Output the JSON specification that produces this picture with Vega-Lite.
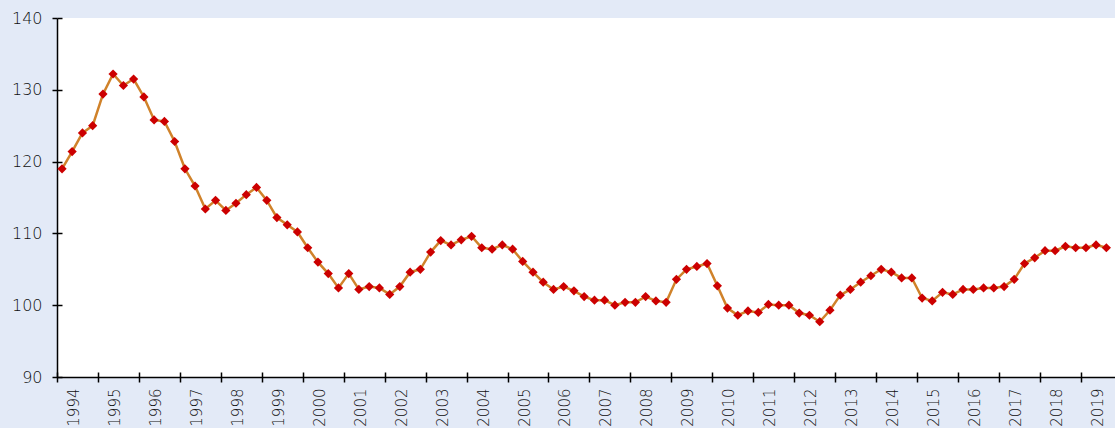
{
  "$schema": "https://vega.github.io/schema/vega-lite/v6.json",
  "width": 1058,
  "height": 359,
  "autosize": {"type": "none"},
  "padding": {"left": 57, "top": 18, "right": 0, "bottom": 51},
  "background": "#e3eaf7",
  "view": {"fill": "white", "stroke": null},
  "config": {
    "axis": {"labelFont": "DejaVu Sans", "labelFontSize": 16, "labelFontWeight": 300, "labelColor": "#111111", "domainColor": "#000000", "tickColor": "#000000", "domainWidth": 1.5, "tickWidth": 1.5, "grid": false, "title": null}
  },
  "data": {"values": [
    {"date": "1994-02-15", "value": 119.0}, {"date": "1994-05-16", "value": 121.4}, {"date": "1994-08-16", "value": 124.0}, {"date": "1994-11-15", "value": 125.0},
    {"date": "1995-02-15", "value": 129.4}, {"date": "1995-05-16", "value": 132.2}, {"date": "1995-08-16", "value": 130.6}, {"date": "1995-11-15", "value": 131.5},
    {"date": "1996-02-15", "value": 129.0}, {"date": "1996-05-16", "value": 125.8}, {"date": "1996-08-16", "value": 125.6}, {"date": "1996-11-15", "value": 122.8},
    {"date": "1997-02-15", "value": 119.0}, {"date": "1997-05-16", "value": 116.6}, {"date": "1997-08-16", "value": 113.4}, {"date": "1997-11-15", "value": 114.6},
    {"date": "1998-02-15", "value": 113.2}, {"date": "1998-05-16", "value": 114.2}, {"date": "1998-08-16", "value": 115.4}, {"date": "1998-11-15", "value": 116.4},
    {"date": "1999-02-15", "value": 114.6}, {"date": "1999-05-16", "value": 112.2}, {"date": "1999-08-16", "value": 111.2}, {"date": "1999-11-15", "value": 110.2},
    {"date": "2000-02-15", "value": 108.0}, {"date": "2000-05-16", "value": 106.0}, {"date": "2000-08-16", "value": 104.4}, {"date": "2000-11-15", "value": 102.4},
    {"date": "2001-02-15", "value": 104.4}, {"date": "2001-05-16", "value": 102.2}, {"date": "2001-08-16", "value": 102.6}, {"date": "2001-11-15", "value": 102.4},
    {"date": "2002-02-15", "value": 101.5}, {"date": "2002-05-16", "value": 102.6}, {"date": "2002-08-16", "value": 104.6}, {"date": "2002-11-15", "value": 105.0},
    {"date": "2003-02-15", "value": 107.4}, {"date": "2003-05-16", "value": 109.0}, {"date": "2003-08-16", "value": 108.4}, {"date": "2003-11-15", "value": 109.1},
    {"date": "2004-02-15", "value": 109.6}, {"date": "2004-05-16", "value": 108.0}, {"date": "2004-08-16", "value": 107.8}, {"date": "2004-11-15", "value": 108.4},
    {"date": "2005-02-15", "value": 107.8}, {"date": "2005-05-16", "value": 106.1}, {"date": "2005-08-16", "value": 104.6}, {"date": "2005-11-15", "value": 103.2},
    {"date": "2006-02-15", "value": 102.2}, {"date": "2006-05-16", "value": 102.6}, {"date": "2006-08-16", "value": 102.0}, {"date": "2006-11-15", "value": 101.2},
    {"date": "2007-02-15", "value": 100.7}, {"date": "2007-05-16", "value": 100.7}, {"date": "2007-08-16", "value": 100.0}, {"date": "2007-11-15", "value": 100.4},
    {"date": "2008-02-15", "value": 100.4}, {"date": "2008-05-16", "value": 101.2}, {"date": "2008-08-16", "value": 100.6}, {"date": "2008-11-15", "value": 100.4},
    {"date": "2009-02-15", "value": 103.6}, {"date": "2009-05-16", "value": 105.0}, {"date": "2009-08-16", "value": 105.4}, {"date": "2009-11-15", "value": 105.8},
    {"date": "2010-02-15", "value": 102.7}, {"date": "2010-05-16", "value": 99.6}, {"date": "2010-08-16", "value": 98.6}, {"date": "2010-11-15", "value": 99.2},
    {"date": "2011-02-15", "value": 99.0}, {"date": "2011-05-16", "value": 100.1}, {"date": "2011-08-16", "value": 100.0}, {"date": "2011-11-15", "value": 100.0},
    {"date": "2012-02-15", "value": 98.9}, {"date": "2012-05-16", "value": 98.6}, {"date": "2012-08-16", "value": 97.7}, {"date": "2012-11-15", "value": 99.3},
    {"date": "2013-02-15", "value": 101.4}, {"date": "2013-05-16", "value": 102.2}, {"date": "2013-08-16", "value": 103.2}, {"date": "2013-11-15", "value": 104.1},
    {"date": "2014-02-15", "value": 105.0}, {"date": "2014-05-16", "value": 104.6}, {"date": "2014-08-16", "value": 103.8}, {"date": "2014-11-15", "value": 103.8},
    {"date": "2015-02-15", "value": 101.0}, {"date": "2015-05-16", "value": 100.6}, {"date": "2015-08-16", "value": 101.8}, {"date": "2015-11-15", "value": 101.5},
    {"date": "2016-02-15", "value": 102.2}, {"date": "2016-05-16", "value": 102.2}, {"date": "2016-08-16", "value": 102.4}, {"date": "2016-11-15", "value": 102.4},
    {"date": "2017-02-15", "value": 102.6}, {"date": "2017-05-16", "value": 103.6}, {"date": "2017-08-16", "value": 105.8}, {"date": "2017-11-15", "value": 106.6},
    {"date": "2018-02-15", "value": 107.6}, {"date": "2018-05-16", "value": 107.6}, {"date": "2018-08-16", "value": 108.2}, {"date": "2018-11-15", "value": 108.0},
    {"date": "2019-02-15", "value": 108.0}, {"date": "2019-05-16", "value": 108.4}, {"date": "2019-08-16", "value": 108.0}
  ]},
  "layer": [
    {
      "mark": {"type": "line", "color": "#d0822a", "strokeWidth": 2.5},
      "encoding": {
        "x": {"field": "date", "type": "temporal",
          "scale": {"type": "utc", "domain": [{"year": 1994, "month": 1, "date": 1, "utc": true}, {"year": 2019, "month": 11, "date": 1, "utc": true}]},
          "axis": {"orient": "bottom", "tickCount": {"interval": "year", "step": 1}, "format": "%Y", "labelAngle": -90, "labelOffset": 16.5, "labelPadding": 6, "labelFontSize": 15, "tickSize": 5, "labelFlush": false, "labelOverlap": false}},
        "y": {"field": "value", "type": "quantitative",
          "scale": {"domain": [90, 140], "nice": false, "zero": false},
          "axis": {"orient": "left", "values": [90, 100, 110, 120, 130, 140], "tickSize": 5, "labelPadding": 10}}
      }
    },
    {
      "mark": {"type": "point", "shape": "diamond", "filled": true, "color": "#cc0000", "size": 85, "opacity": 1},
      "encoding": {
        "x": {"field": "date", "type": "temporal",
          "axis": {"orient": "bottom", "tickCount": {"interval": "year", "step": 1}, "labels": false, "domain": false, "tickSize": -5}},
        "y": {"field": "value", "type": "quantitative",
          "axis": {"orient": "left", "values": [90, 100, 110, 120, 130, 140], "labels": false, "domain": false, "tickSize": -5}}
      }
    }
  ],
  "resolve": {"axis": {"x": "independent", "y": "independent"}}
}
